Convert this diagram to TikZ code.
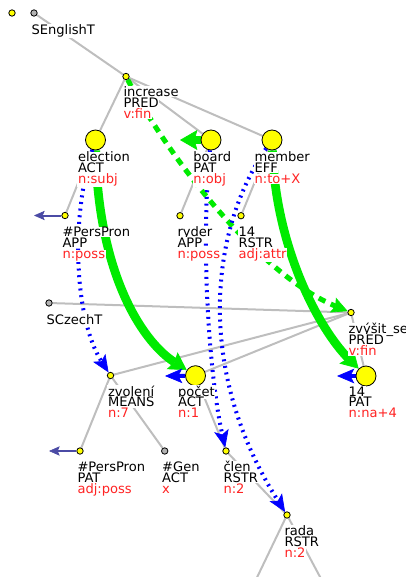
\documentclass[tikz,border=0pt]{standalone}
\usepackage{fontspec}
\setmainfont{DejaVu Sans}
\usepackage{tikz}
\usetikzlibrary{calc}
\usetikzlibrary{arrows.meta}
\usetikzlibrary{backgrounds}
\definecolor{alngreen}{RGB}{0,235,0}
\definecolor{alnblue}{RGB}{0,0,255}
\definecolor{corefblue}{RGB}{75,75,165}
\definecolor{edgegray}{RGB}{190,190,190}
\definecolor{formred}{RGB}{255,35,35}
\definecolor{nodeyellow}{RGB}{255,255,0}
\setlength{\fboxsep}{0.4pt}
\newcommand{\labfont}{\fontsize{9.8}{8.1}\selectfont\lineskiplimit=-20pt\relax}
\newcommand{\tline}[1]{\colorbox{white}{#1}}
\newcommand{\tform}[1]{\colorbox{white}{\textcolor{formred}{#1}}}
\begin{document}
\begin{tikzpicture}[x=0.75pt,y=-0.75pt,
		tnode/.style={circle,draw=black,line width=0.6pt,fill=nodeyellow,inner sep=0pt,minimum size=4.8pt},
		gnode/.style={tnode,fill=gray!60},
		bignode/.style={tnode,minimum size=15pt},
		lab/.style={anchor=base west,align=left,inner sep=0pt,font=\labfont},
		tedge/.style={edgegray,line width=1.5pt},
		alnsolid/.style={alngreen,line width=6.5pt,-{Stealth[length=13pt,width=15pt,inset=2pt,line width=0.5pt]}},
		alndash/.style={alngreen,line width=3.8pt,dash pattern=on 5.5pt off 4.5pt,-{Stealth[length=12pt,width=12pt,inset=2pt,line width=0.5pt]}},
		alndot/.style={alnblue,line width=3pt,dash pattern=on 1.5pt off 3.5pt,-{Stealth[length=13pt,width=11pt,inset=3pt,line width=0.5pt]}},
		coref/.style={corefblue,line width=1.5pt,-{Stealth[length=8pt,width=7pt,inset=1.5pt,line width=0.5pt]}}]
	\useasboundingbox (0,0) rectangle (406,577);
	% english tree
	\node[tnode] (aroot) at (12,13) {};
	\node[gnode] (SEnglishT) at (34,13) {};
	\node[tnode] (increase) at (126,76.5) {};
	\node[bignode] (election) at (95.5,140) {};
	\node[bignode] (board) at (211,140) {};
	\node[bignode] (member) at (272,140) {};
	\node[tnode] (perspronA) at (65,215.5) {};
	\node[tnode] (ryder) at (180,215.7) {};
	\node[tnode] (fourteenA) at (241,215.7) {};
	% czech tree
	\node[gnode] (SCzechT) at (49,303) {};
	\node[tnode] (zvysit) at (351,312.5) {};
	\node[tnode] (zvoleni) at (110.5,375.5) {};
	\node[bignode] (pocet) at (195.5,375.7) {};
	\node[bignode] (fourteenP) at (366,376) {};
	\node[tnode] (perspronP) at (80,451) {};
	\node[gnode] (gen) at (164.7,451) {};
	\node[tnode] (clen) at (226,451) {};
	\node[tnode] (rada) at (287,515) {};
	% labels (base = last line)
	\node[lab] (SEnglishTlab) at (30.7,34.3) {\tline{SEnglishT}};
	\node[lab] (increaselab) at (122.7,118.3) {\tline{increase}\\\tline{PRED}\\\tform{v:fin}};
	\node[lab] (electionlab) at (77.2,183.6) {\tline{election}\\\tline{ACT}\\\tform{n:subj}};
	\node[lab] (boardlab) at (192.5,183.6) {\tline{board}\\\tline{PAT}\\\tform{n:obj}};
	\node[lab] (memberlab) at (253.8,183.6) {\tline{member}\\\tline{EFF}\\\tform{n:to+X}};
	\node[lab] (perspronAlab) at (61.7,258.3) {\tline{\#PersPron}\\\tline{APP}\\\tform{n:poss}};
	\node[lab] (ryderlab) at (176.7,258.3) {\tline{ryder}\\\tline{APP}\\\tform{n:poss}};
	\node[lab] (fourteenAlab) at (237.8,258.3) {\tline{14}\\\tline{RSTR}\\\tform{adj:attr}};
	\node[lab] (SCzechTlab) at (45.8,324.3) {\tline{SCzechT}};
	\node[lab] (zvysitlab) at (347.8,355.1) {\tline{zvýšit\_se}\\\tline{PRED}\\\tform{v:fin}};
	\node[lab] (zvolenilab) at (107.2,417.6) {\tline{zvolení}\\\tline{MEANS}\\\tform{n:7}};
	\node[lab] (pocetlab) at (177.3,417.6) {\tline{počet}\\\tline{ACT}\\\tform{n:1}};
	\node[lab] (fourteenPlab) at (347.8,417.6) {\tline{14}\\\tline{PAT}\\\tform{n:na+4}};
	\node[lab] (perspronPlab) at (76.7,493.3) {\tline{\#PersPron}\\\tline{PAT}\\\tform{adj:poss}};
	\node[lab] (genlab) at (161.4,493.3) {\tline{\#Gen}\\\tline{ACT}\\\tform{x}};
	\node[lab] (clenlab) at (222.7,493.3) {\tline{člen}\\\tline{RSTR}\\\tform{n:2}};
	\node[lab] (radalab) at (283.7,557.3) {\tline{rada}\\\tline{RSTR}\\\tform{n:2}};
	\coordinate (radaleft) at (251,590);
	\coordinate (radaright) at (327,590);
	\coordinate (boardstub) at (180,140);
	\coordinate (pocetstub) at (165,376);
	\coordinate (fourteenPstub) at (337,376);
	\coordinate (perspronAout) at (34,215.5);
	\coordinate (perspronPout) at (49,451);
	\begin{scope}[on background layer]
		% tree edges
		\draw[tedge] (SEnglishT)--(increase);
		\draw[tedge] (increase)--(election);
		\draw[tedge] (increase)--(board);
		\draw[tedge] (increase)--(member);
		\draw[tedge] (election)--(perspronA);
		\draw[tedge] (board)--(ryder);
		\draw[tedge] (member)--(fourteenA);
		\draw[tedge] (SCzechT)--(zvysit);
		\draw[tedge] (zvysit)--(zvoleni);
		\draw[tedge] (zvysit)--(pocet);
		\draw[tedge] (zvysit)--(fourteenP);
		\draw[tedge] (zvoleni)--(perspronP);
		\draw[tedge] (zvoleni)--(gen);
		\draw[tedge] (pocet)--(clen);
		\draw[tedge] (clen)--(rada);
		\draw[tedge] (rada)--(radaleft);
		\draw[tedge] (rada)--(radaright);
		% alignment
		\draw[alnsolid] (election) .. controls (98,270) and (140,340) .. (pocet);
		\draw[alnsolid] (member) .. controls (276,250) and (320,330) .. (fourteenP);
		\draw[alndash] (increase) .. controls (170,160) and (260,275) .. (zvysit);
		\draw[alndot] (election) .. controls (70,220) and (75,320) .. (zvoleni);
		\draw[alndot] (board) .. controls (200,250) and (210,380) .. (clen);
		\draw[alndot] (member) .. controls (210,230) and (195,370) .. (rada);
		\draw[alnsolid] (board)--(boardstub);
		\draw[alndot,solid] (pocet)--(pocetstub);
		\draw[alndot,solid] (fourteenP)--(fourteenPstub);
		% coreference
		\draw[coref] (perspronA)--(perspronAout);
		\draw[coref] (perspronP)--(perspronPout);
	\end{scope}
\end{tikzpicture}
\end{document}
